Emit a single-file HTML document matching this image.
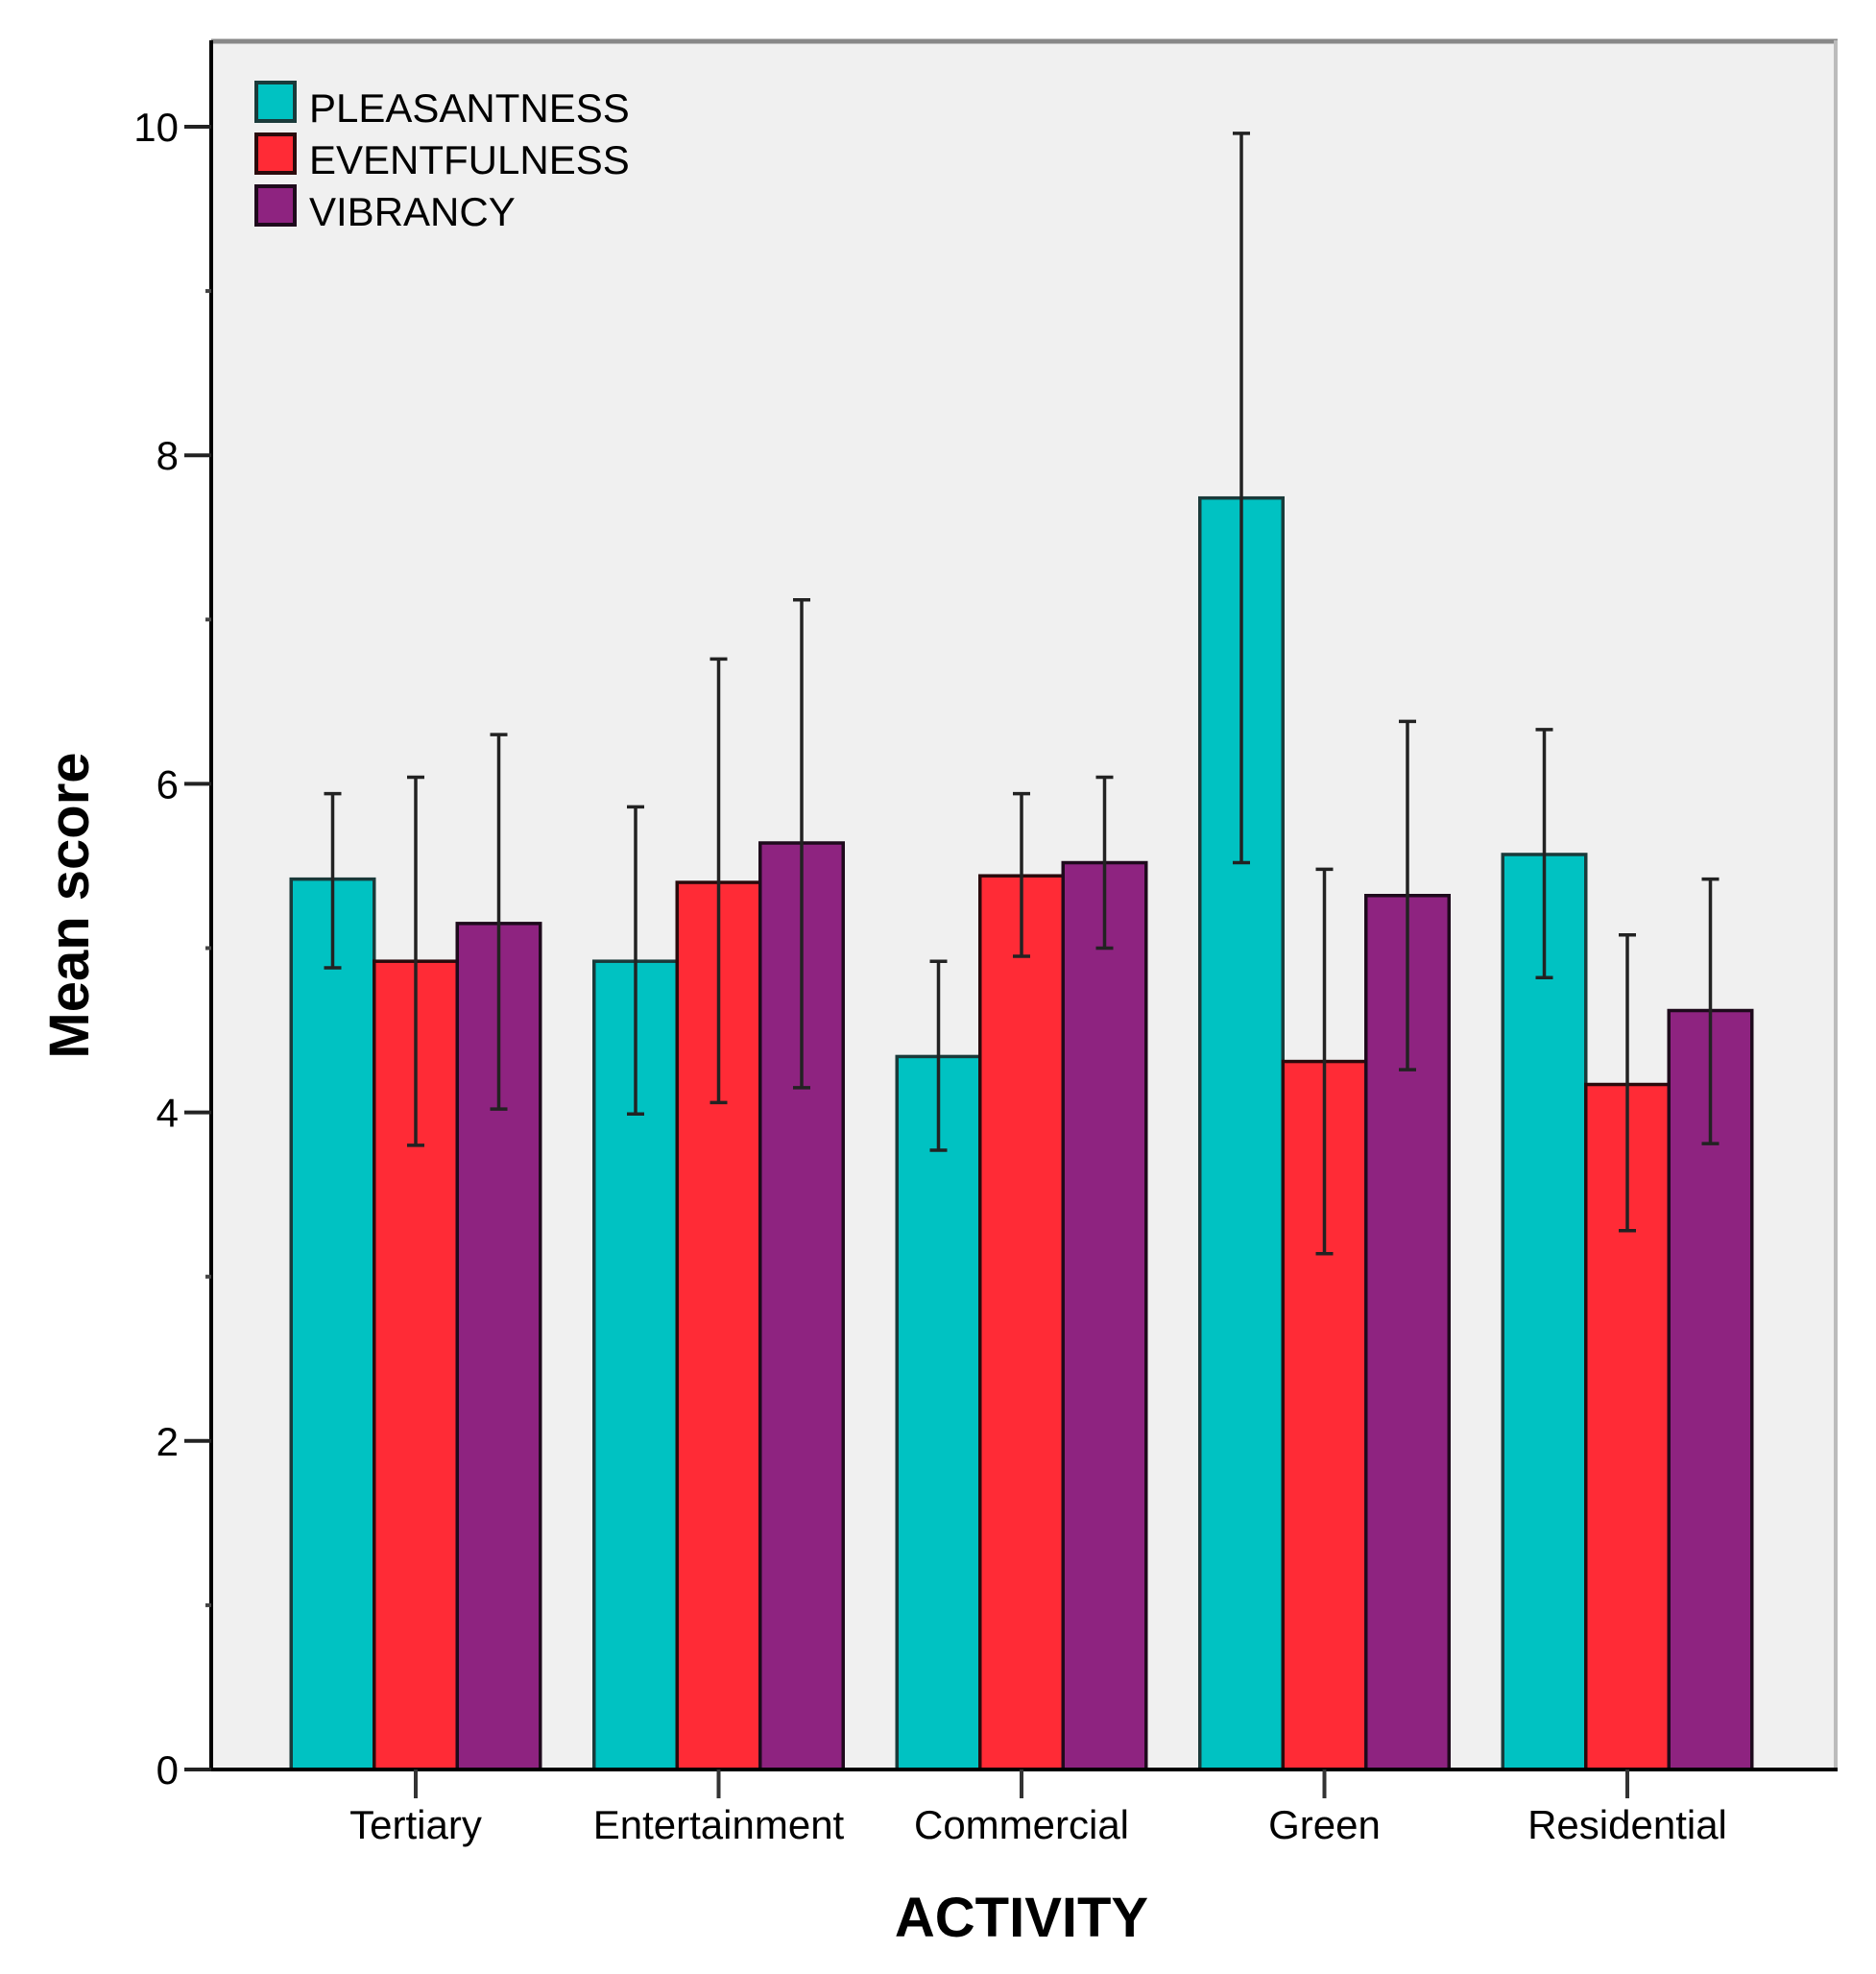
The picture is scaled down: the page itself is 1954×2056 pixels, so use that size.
<!DOCTYPE html>
<html><head><meta charset="utf-8"><style>
html,body{margin:0;padding:0;background:#fff;}
svg{display:block;font-family:"Liberation Sans",Arial,sans-serif;}
</style></head><body>
<svg id="chart" width="1954" height="2056" viewBox="0 0 1954 2056" xmlns="http://www.w3.org/2000/svg">
<rect x="220" y="42" width="1692" height="1801" fill="#f0f0f0"/>
<g id="bars"></g>
<g id="errs"></g>
<line x1="220" y1="43" x2="1914" y2="43" stroke="#888" stroke-width="5"/>
<line x1="1912" y1="42" x2="1912" y2="1845" stroke="#bbb" stroke-width="4"/>
<line x1="220" y1="42" x2="220" y2="1845" stroke="#000" stroke-width="4"/>
<line x1="218" y1="1843" x2="1914" y2="1843" stroke="#000" stroke-width="4"/>
<g id="yaxis"></g>
<g id="xaxis"></g>
<text transform="translate(92,943) rotate(-90)" text-anchor="middle" font-size="58" font-weight="bold">Mean score</text>
<text x="1064" y="2017" text-anchor="middle" font-size="58" font-weight="bold">ACTIVITY</text>
<g id="legend"></g>
</svg>
<script>
const categories = ["Tertiary","Entertainment","Commercial","Green","Residential"];
const seriesNames = ["PLEASANTNESS","EVENTFULNESS","VIBRANCY"];
const pleasantness = [5.42,4.92,4.34,7.74,5.57];
const pleasantnessHi = [5.94,5.86,4.92,9.96,6.33];
const pleasantnessLo = [4.88,3.99,3.77,5.52,4.82];
const eventfulness = [4.92,5.40,5.44,4.31,4.17];
const eventfulnessHi = [6.04,6.76,5.94,5.48,5.08];
const eventfulnessLo = [3.80,4.06,4.95,3.14,3.28];
const vibrancy = [5.15,5.64,5.52,5.32,4.62];
const vibrancyHi = [6.30,7.12,6.04,6.38,5.42];
const vibrancyLo = [4.02,4.15,5.00,4.26,3.81];
const yTicks = [0,2,4,6,8,10];
const yMinorTicks = [1,3,5,7,9];

const NS="http://www.w3.org/2000/svg";
const colors=["#00c2c2","#ff2b36","#8e2380"];
const borders=["#1a3a3a","#2a0a0c","#1e0a1c"];
const y0=1843, y10=132;
function yScale(v){return y0-(y0-y10)*v/10;}
const gStart=433, gStep=315.5, barW=86.5;
function xCenter(i){return gStart+i*gStep;}
function mk(tag,attrs,parent){const e=document.createElementNS(NS,tag);for(const k in attrs)e.setAttribute(k,attrs[k]);parent.appendChild(e);return e;}
const vals=[pleasantness,eventfulness,vibrancy];
const his=[pleasantnessHi,eventfulnessHi,vibrancyHi];
const los=[pleasantnessLo,eventfulnessLo,vibrancyLo];
const gb=document.getElementById('bars'), ge=document.getElementById('errs');
categories.forEach((c,i)=>{
  vals.forEach((arr,s)=>{
    const x=xCenter(i)+(s-1.5)*barW;
    const y=yScale(arr[i]);
    const r=mk('rect',{x:x,y:y,width:barW,height:y0-y,fill:colors[s],stroke:borders[s],'stroke-width':3.5},gb);
    
    
    const cx=x+barW/2, yh=yScale(his[s][i]), yl=yScale(los[s][i]);
    const g=mk('g',{stroke:'#222','stroke-width':3.5},ge);
    
    
    mk('line',{x1:cx,y1:yh,x2:cx,y2:yl},g);
    mk('line',{x1:cx-9,y1:yh,x2:cx+9,y2:yh},g);
    mk('line',{x1:cx-9,y1:yl,x2:cx+9,y2:yl},g);
  });
});
const ya=document.getElementById('yaxis');
yTicks.forEach(v=>{
  const y=yScale(v);
  const l=mk('line',{x1:192,y1:y,x2:220,y2:y,stroke:'#222','stroke-width':4},ya);
  
  
  const t=mk('text',{x:186,y:y+15,'text-anchor':'end','font-size':42},ya);
  
  
  t.textContent=v;
});
yMinorTicks.forEach(v=>{
  const y=yScale(v);
  const l=mk('line',{x1:214,y1:y,x2:220,y2:y,stroke:'#444','stroke-width':4},ya);
  
  
});
const xa=document.getElementById('xaxis');
categories.forEach((c,i)=>{
  const x=xCenter(i);
  const l=mk('line',{x1:x,y1:1843,x2:x,y2:1873,stroke:'#333','stroke-width':4},xa);
  
  
  const t=mk('text',{x:x,y:1915,'text-anchor':'middle','font-size':42},xa);
  
  
  t.textContent=c;
});
const lg=document.getElementById('legend');
seriesNames.forEach((n,s)=>{
  const y=86+s*54;
  const r=mk('rect',{x:267,y:y,width:40,height:40,fill:colors[s],stroke:borders[s],'stroke-width':4},lg);
  
  
  const t=mk('text',{x:322,y:y+41,'font-size':42},lg);
  
  
  t.textContent=n;
});
</script>
</body></html>
